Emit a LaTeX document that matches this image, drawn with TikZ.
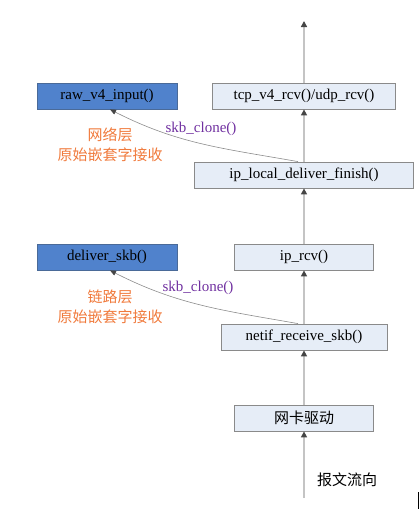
\documentclass[tikz,border=0pt]{standalone}
\usepackage{fontspec}
\setmainfont{Liberation Serif}
\newfontfamily\cjk{Noto Sans CJK SC}
\usetikzlibrary{arrows.meta}
\definecolor{boxfill}{HTML}{E6EDF7}
\definecolor{boxline}{HTML}{8A8A8A}
\definecolor{darkfill}{HTML}{5082CC}
\definecolor{darkline}{HTML}{4A6A98}
\definecolor{orangetxt}{HTML}{F07A3C}
\definecolor{purpletxt}{HTML}{7030A0}
\definecolor{flowline}{HTML}{C4C4C4}
\definecolor{tipcol}{HTML}{454545}
\definecolor{curveline}{HTML}{8C8C8C}
\begin{document}
\begin{tikzpicture}[x=1pt,y=-1pt,font=\fontsize{15}{18}\selectfont,
  lightbox/.style={draw=boxline,fill=boxfill,line width=0.8pt,minimum height=26pt,inner sep=0pt},
  darkbox/.style={draw=darkline,fill=darkfill,line width=0.8pt,minimum height=26pt,minimum width=140pt,inner sep=0pt},
  flow/.style={draw=flowline,line width=2pt,-{Triangle[width=6pt,length=6pt,color=tipcol]}},
  clone/.style={draw=curveline,line width=0.6pt,-{Triangle[width=5pt,length=6pt,color=tipcol]}},
  note/.style={text=orangetxt,align=center,font=\cjk\fontsize{15}{20}\selectfont},
  fn/.style={text=purpletxt}]
\useasboundingbox (0,0) rectangle (420,509);
% boxes
\node[lightbox,minimum width=183pt] (tcp) at (304,96) {tcp\_v4\_rcv()/udp\_rcv()};
\node[lightbox,minimum width=219pt] (ipl) at (304,175) {ip\_local\_deliver\_finish()};
\node[lightbox,minimum width=139pt] (iprcv) at (304,257) {ip\_rcv()};
\node[lightbox,minimum width=166pt] (netif) at (304,337) {netif\_receive\_skb()};
\node[lightbox,minimum width=139pt,font=\cjk\fontsize{15}{18}\selectfont] (nic) at (304,418) {网卡驱动};
\node[darkbox] (raw) at (107,96) {raw\_v4\_input()};
\node[darkbox] (dlv) at (107,257) {deliver\_skb()};
% flow
\coordinate (bot) at (304,498);
\coordinate (top) at (304,21);
\draw[flow] (bot) -- (nic.south);
\draw[flow] (nic.north) -- (netif.south);
\draw[flow] (netif.north) -- (iprcv.south);
\draw[flow] (iprcv.north) -- (ipl.south);
\draw[flow] (ipl.north) -- (tcp.south);
\draw[flow] (tcp.north) -- (top);
% clones
\draw[clone] ([xshift=-6pt]ipl.north) to[out=170,in=-27] ([xshift=3pt]raw.south);
\draw[clone] ([xshift=-6pt]netif.north) to[out=170,in=-27] ([xshift=3pt]dlv.south);
\node[fn] (c1) at (201,129) {skb\_clone()};
\node[fn] (c2) at (198,288) {skb\_clone()};
\node[note] (n1) at (110,145) {网络层\\原始嵌套字接收};
\node[note] (n2) at (110,307) {链路层\\原始嵌套字接收};
\node[font=\cjk\fontsize{15}{18}\selectfont] (flowlbl) at (347,480) {报文流向};
% stray mark
\coordinate (s1) at (418,492);
\coordinate (s2) at (418,509);
\draw[black,line width=1pt] (s1) -- (s2);
\end{tikzpicture}
\end{document}
